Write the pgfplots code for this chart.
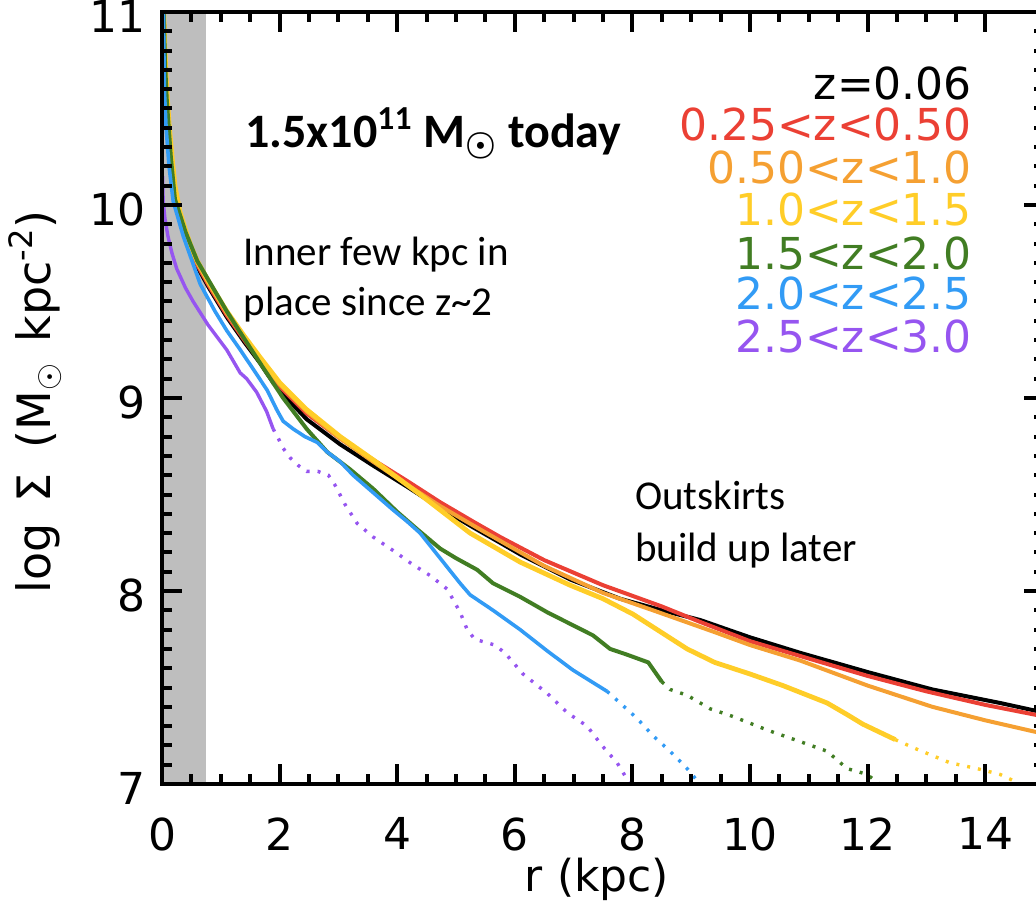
\documentclass[border=0pt]{standalone}
\usepackage{pgfplots}
\pgfplotsset{compat=1.18}
\usepackage{fontspec}
\newfontfamily\axfont{DejaVu Sans}
\newfontfamily\calib{Carlito}
\definecolor{cred}{RGB}{235,64,52}
\definecolor{corange}{RGB}{245,160,50}
\definecolor{cyellow}{RGB}{255,205,40}
\definecolor{cgreen}{RGB}{65,125,35}
\definecolor{cblue}{RGB}{50,155,245}
\definecolor{cpurple}{RGB}{150,85,240}
\definecolor{cgray}{RGB}{190,190,190}
\definecolor{tickblack}{RGB}{0,0,0}
\begin{document}
\begin{tikzpicture}
\begin{axis}[
  scale only axis, width=441pt, height=386pt,
  xmin=0, xmax=15, ymin=7, ymax=11,
  xtick={0,2,4,6,8,10,12,14}, ytick={7,8,9,10,11},
  minor x tick num=3, minor y tick num=9,
  tick align=inside,
  major tick length=10pt, minor tick length=5pt,
  every tick/.append style={tickblack, line width=2pt},
  axis line style={line width=1.6pt},
  axis on top,
  /pgf/number format/assume math mode=true,
  ticklabel style={font=\axfont\fontsize{22}{26}\selectfont, inner sep=0pt},
  xticklabel style={yshift=-16.5pt},
  yticklabel style={xshift=-8pt, yshift=-2pt},
  xlabel={r\,\,(kpc)},
  xlabel style={at={(axis description cs:0.493,-0.124)}, anchor=center, font=\axfont\fontsize{22}{26}\selectfont},
  ylabel={log\hspace{0.45em}Σ\hspace{0.55em}(M$_\odot$\hspace{0.45em}kpc\textsuperscript{-2})},
  ylabel style={at={(axis description cs:-0.144,0.495)}, anchor=center, rotate=0, font=\axfont\fontsize{23}{27}\selectfont},
]
\addplot[draw=none, fill=cgray] coordinates {(0,7) (0.75,7) (0.75,11) (0,11)} -- cycle;
% z=0.06
\addplot[black, line width=2pt] coordinates {(0.02,11.1) (0.05,10.75) (0.08,10.56) (0.12,10.38) (0.17,10.2) (0.22,10.05) (0.3,9.93) (0.4,9.83) (0.5,9.75) (0.6,9.68) (0.8,9.57) (1.1,9.42) (1.4,9.29) (1.67,9.18) (1.89,9.08) (2.18,8.98) (2.46,8.89) (3.03,8.76) (3.59,8.65) (4.17,8.54) (4.73,8.43) (5.29,8.33) (5.75,8.25) (6.09,8.19) (6.94,8.06) (7.79,7.96) (8.5,7.9) (9.15,7.85) (10,7.76) (10.85,7.68) (12,7.58) (13.1,7.49) (14.25,7.42) (15,7.37)};
% 0.25<z<0.50
\addplot[cred, line width=2pt] coordinates {(0.02,11.1) (0.05,10.77) (0.08,10.58) (0.12,10.4) (0.17,10.22) (0.22,10.07) (0.3,9.94) (0.4,9.84) (0.5,9.76) (0.6,9.69) (0.8,9.58) (1.1,9.43) (1.4,9.3) (1.67,9.19) (2.0,9.06) (2.46,8.92) (3.03,8.79) (3.59,8.68) (4.17,8.57) (4.73,8.46) (5.29,8.36) (5.75,8.28) (6.5,8.16) (7.5,8.03) (8.5,7.92) (9.15,7.84) (10,7.74) (11,7.65) (12,7.56) (13,7.48) (14,7.41) (15,7.35)};
% 0.50<z<1.0
\addplot[corange, line width=2pt] coordinates {(0.02,11.1) (0.05,10.78) (0.08,10.59) (0.12,10.41) (0.17,10.23) (0.22,10.08) (0.3,9.95) (0.4,9.85) (0.5,9.77) (0.6,9.7) (0.8,9.59) (1.1,9.44) (1.4,9.31) (1.67,9.2) (2.0,9.07) (2.46,8.93) (3.03,8.79) (3.59,8.67) (4.17,8.55) (4.73,8.44) (5.29,8.34) (5.75,8.26) (6.5,8.13) (7.5,7.99) (8.35,7.9) (9.37,7.79) (10,7.72) (10.85,7.64) (12,7.51) (13.1,7.4) (14,7.33) (15,7.26)};
% 1.0<z<1.5
\addplot[cyellow, line width=2.4pt] coordinates {(0.02,11.1) (0.05,10.8) (0.08,10.6) (0.12,10.42) (0.17,10.25) (0.22,10.1) (0.3,9.97) (0.4,9.87) (0.5,9.78) (0.6,9.71) (0.8,9.6) (1.1,9.45) (1.4,9.32) (1.67,9.21) (2.0,9.08) (2.46,8.94) (3.03,8.8) (3.59,8.68) (4.39,8.5) (5.24,8.3) (6.09,8.15) (6.94,8.03) (7.5,7.96) (8.01,7.88) (8.47,7.79) (8.93,7.7) (9.4,7.63) (10,7.57) (10.56,7.51) (11.31,7.42) (11.65,7.36) (11.92,7.31) (12.47,7.23)};
\addplot[cyellow, line width=1.7pt, dash pattern=on 1.5pt off 4pt] coordinates {(12.47,7.23) (12.84,7.18) (13.4,7.11) (13.86,7.08) (14.25,7.05) (14.6,7.0) (14.7,6.98)};
% 1.5<z<2.0
\addplot[cgreen, line width=2pt] coordinates {(0.02,11.1) (0.05,10.75) (0.08,10.55) (0.15,10.25) (0.22,10.03) (0.4,9.86) (0.6,9.71) (0.85,9.58) (1.1,9.45) (1.33,9.34) (1.67,9.18) (2.06,9.0) (2.46,8.84) (2.81,8.72) (3.2,8.63) (3.59,8.53) (4.0,8.41) (4.34,8.32) (4.73,8.22) (5.0,8.17) (5.36,8.11) (5.63,8.04) (6.09,7.97) (6.55,7.89) (6.94,7.83) (7.33,7.77) (7.62,7.7) (7.91,7.67) (8.27,7.63) (8.5,7.53)};
\addplot[cgreen, line width=1.7pt, dash pattern=on 1.5pt off 4pt] coordinates {(8.5,7.53) (8.64,7.49) (8.93,7.46) (9.32,7.39) (9.71,7.35) (10.29,7.28) (10.85,7.22) (11.31,7.17) (11.65,7.08) (11.99,7.05) (12.2,7.0) (12.3,6.98)};
% 2.0<z<2.5
\addplot[cblue, line width=1.8pt] coordinates {(0.02,11.1) (0.04,10.6) (0.07,10.4) (0.12,10.2) (0.19,10.02) (0.36,9.84) (0.65,9.59) (0.9,9.45) (1.1,9.35) (1.33,9.25) (1.55,9.15) (1.79,9.04) (1.95,8.94) (2.06,8.88) (2.23,8.84) (2.43,8.8) (2.64,8.77) (2.81,8.72) (3.03,8.67) (3.25,8.6) (3.59,8.51) (3.93,8.42) (4.17,8.36) (4.39,8.3) (4.73,8.17) (5.07,8.04) (5.24,7.98) (5.63,7.9) (6.09,7.8) (6.55,7.69) (6.99,7.59) (7.57,7.48)};
\addplot[cblue, line width=1.7pt, dash pattern=on 1.5pt off 4pt] coordinates {(7.57,7.48) (7.79,7.42) (8.08,7.34) (8.35,7.25) (8.64,7.17) (8.93,7.08) (9.15,7.0) (9.2,6.98)};
% 2.5<z<3.0
\addplot[cpurple, line width=1.7pt] coordinates {(0.01,10.15) (0.02,10.02) (0.05,9.93) (0.1,9.84) (0.17,9.75) (0.25,9.67) (0.4,9.57) (0.53,9.5) (0.78,9.38) (1.1,9.25) (1.33,9.13) (1.44,9.1) (1.61,9.03) (1.78,8.93) (1.89,8.84)};
\addplot[cpurple, line width=1.7pt, dash pattern=on 1.5pt off 4pt] coordinates {(1.89,8.84) (1.98,8.79) (2.06,8.74) (2.18,8.69) (2.32,8.65) (2.46,8.62) (2.65,8.62) (2.83,8.6) (2.94,8.55) (3.11,8.45) (3.32,8.35) (3.59,8.28) (3.93,8.21) (4.25,8.14) (4.56,8.08) (4.85,8.01) (5.07,7.89) (5.19,7.8) (5.32,7.75) (5.66,7.72) (5.83,7.68) (6.14,7.57) (6.55,7.47) (6.89,7.37) (7.23,7.3) (7.48,7.2) (7.74,7.11) (7.96,7.0) (8.0,6.98)};
% annotations
\node[anchor=base west, inner sep=0pt, font=\calib\bfseries\fontsize{24}{28}\selectfont] at (axis cs:1.41,10.30) {1.5x10\textsuperscript{11} M{\boldmath$_{\odot}$} today};
\node[anchor=base west, inner sep=0pt, font=\calib\fontsize{20.5}{25}\selectfont] at (axis cs:1.38,9.689) {Inner few kpc in};
\node[anchor=base west, inner sep=0pt, font=\calib\fontsize{20.5}{25}\selectfont] at (axis cs:1.38,9.43) {place since z\textasciitilde2};
\node[anchor=base west, inner sep=0pt, font=\calib\fontsize{20.5}{25}\selectfont] at (axis cs:8.04,8.42) {Outskirts};
\node[anchor=base west, inner sep=0pt, font=\calib\fontsize{20.5}{25}\selectfont] at (axis cs:8.04,8.155) {build up later};
% legend
\node[anchor=base east, inner sep=0pt, font=\axfont\fontsize{22}{26}\selectfont, text=black] at (axis cs:13.78,10.549) {z=0.06};
\node[anchor=base east, inner sep=0pt, font=\axfont\fontsize{22}{26}\selectfont, text=cred] at (axis cs:13.78,10.332) {0.25<z<0.50};
\node[anchor=base east, inner sep=0pt, font=\axfont\fontsize{22}{26}\selectfont, text=corange] at (axis cs:13.78,10.109) {0.50<z<1.0};
\node[anchor=base east, inner sep=0pt, font=\axfont\fontsize{22}{26}\selectfont, text=cyellow] at (axis cs:13.78,9.896) {1.0<z<1.5};
\node[anchor=base east, inner sep=0pt, font=\axfont\fontsize{22}{26}\selectfont, text=cgreen] at (axis cs:13.78,9.668) {1.5<z<2.0};
\node[anchor=base east, inner sep=0pt, font=\axfont\fontsize{22}{26}\selectfont, text=cblue] at (axis cs:13.78,9.456) {2.0<z<2.5};
\node[anchor=base east, inner sep=0pt, font=\axfont\fontsize{22}{26}\selectfont, text=cpurple] at (axis cs:13.78,9.238) {2.5<z<3.0};
\end{axis}
\pgfresetboundingbox
\path[use as bounding box] ([xshift=-81pt,yshift=-65.5pt]current axis.south west) rectangle ([xshift=-4pt,yshift=6pt]current axis.north east);
\end{tikzpicture}
\end{document}
